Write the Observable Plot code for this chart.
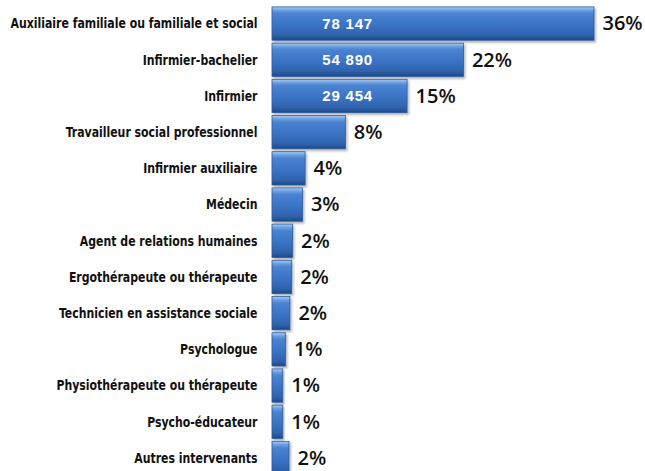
<!DOCTYPE html>
<html>
<head>
<meta charset="utf-8">
<script src="https://cdn.jsdelivr.net/npm/d3@7"></script>
<script src="https://cdn.jsdelivr.net/npm/@observablehq/plot@0.6"></script>
<style>
  html, body { margin: 0; padding: 0; background: #fff; }
  #chart svg { display: block; overflow: hidden; }
</style>
</head>
<body>
<div id="chart"></div>
<script>
const categories = [
  "Auxiliaire familiale ou familiale et social",
  "Infirmier-bachelier",
  "Infirmier",
  "Travailleur social professionnel",
  "Infirmier auxiliaire",
  "Médecin",
  "Agent de relations humaines",
  "Ergothérapeute ou thérapeute",
  "Technicien en assistance sociale",
  "Psychologue",
  "Physiothérapeute ou thérapeute",
  "Psycho-éducateur",
  "Autres intervenants"
];
const shares = [36, 21.4, 15.1, 8.2, 3.7, 3.4, 2.3, 2.2, 2.0, 1.5, 1.2, 1.2, 1.9];
const shareLabels = ["36%", "22%", "15%", "8%", "4%", "3%", "2%", "2%", "2%", "1%", "1%", "1%", "2%"];
const counts = [78147, 54890, 29454, null, null, null, null, null, null, null, null, null, null];

const data = categories.map((c, i) => ({
  cat: c, share: shares[i], label: shareLabels[i], count: counts[i]
}));
const fmtCount = v => d3.format(",")(v).replace(/,/g, " ");

const chart = Plot.plot({
  width: 645,
  height: 471,
  marginLeft: 272,
  marginRight: 51,
  marginTop: 0,
  marginBottom: 0,
  x: { domain: [0, 36], axis: null, round: false },
  y: { domain: categories, range: [4, 477.5], padding: 0.08, round: false, label: null },
  style: { background: "#fff" },
  marks: [
    Plot.axisY({
      tickSize: 0,
      tickPadding: 15,
      fontSize: 13.5,
      fontWeight: "bold",
      fill: "#111",
      label: null,
      className: "ylab"
    }),
    Plot.barX(data, {
      x: "share",
      y: "cat",
      fill: "url(#barGrad)",
      stroke: "#2a5a9c",
      strokeWidth: 0.8,
      className: "bars"
    }),
    Plot.text(data.filter(d => d.count != null), {
      x: () => 8.4,
      y: "cat",
      text: d => fmtCount(d.count),
      fill: "white",
      fontSize: 15,
      fontWeight: "bold",
      textAnchor: "middle",
      className: "vals"
    }),
    Plot.text(data, {
      x: "share",
      y: "cat",
      text: "label",
      dx: 8,
      textAnchor: "start",
      fill: "#111",
      fontSize: 20,
      fontWeight: 600,
      className: "pcts"
    })
  ]
});

const svg = d3.select(chart);
const defs = svg.insert("defs", ":first-child");
const g = defs.append("linearGradient")
  .attr("id", "barGrad").attr("x1", 0).attr("y1", 0).attr("x2", 0).attr("y2", 1);
[
  [0, "#a9cdf5"], [0.1, "#6d9fe0"], [0.2, "#4a83d2"], [0.55, "#3b73c4"],
  [0.85, "#2f62ad"], [1, "#1f4784"]
].forEach(([o, c]) => g.append("stop").attr("offset", o).attr("stop-color", c));
const f = defs.append("filter").attr("id", "shadow").attr("x", "-10%").attr("y", "-10%").attr("width", "130%").attr("height", "140%");
f.append("feDropShadow").attr("dx", 1.5).attr("dy", 2).attr("stdDeviation", 1.2).attr("flood-color", "#000").attr("flood-opacity", 0.3);
svg.selectAll(".bars rect").attr("filter", "url(#shadow)");

svg.selectAll(".ylab text")
  .style("font-family", "'Liberation Sans Narrow', 'DejaVu Sans Condensed', sans-serif")
  .each(function() {
    const t = d3.select(this);
    const tr = t.attr("transform") || "";
    t.attr("transform", tr + " scale(0.9,1)");
  });
svg.selectAll(".vals text").style("font-family", "'Liberation Sans', Arial, sans-serif").style("letter-spacing", "0.8px");
svg.selectAll(".pcts text").style("font-family", "'Open Sans', 'Liberation Sans', sans-serif");

document.getElementById("chart").appendChild(chart);
</script>
</body>
</html>
